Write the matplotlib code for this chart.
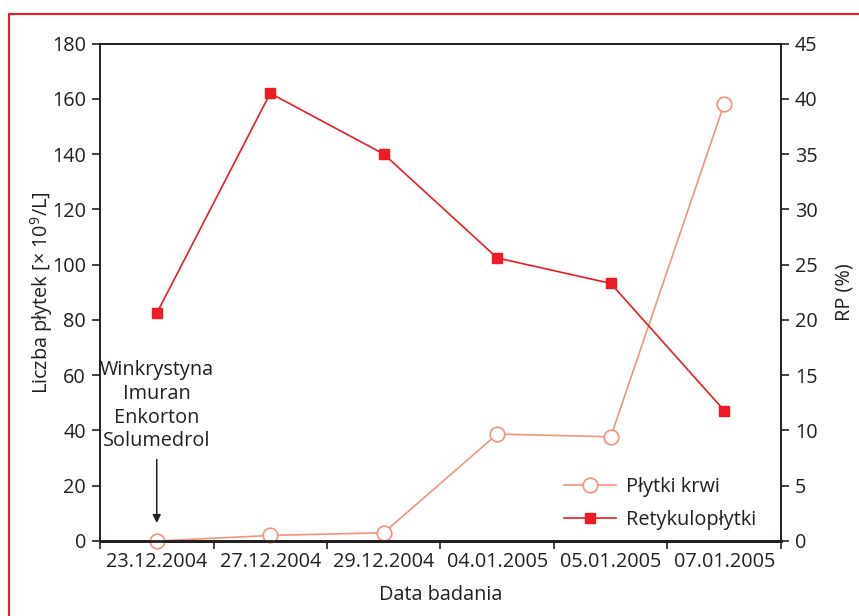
import numpy as np
import matplotlib.pyplot as plt
from matplotlib.lines import Line2D

plt.rcParams['font.family'] = ['Open Sans', 'DejaVu Sans']
plt.rcParams['mathtext.fontset'] = 'custom'
plt.rcParams['mathtext.rm'] = 'Open Sans'
FS = 14.3

dates = ['23.12.2004', '27.12.2004', '29.12.2004', '04.01.2005', '05.01.2005', '07.01.2005']
plytki = [0, 2, 3, 38.7, 37.7, 158.2]        # x 10^9/L, left axis
retykulo = [20.6, 40.5, 35.0, 25.6, 23.3, 11.8]  # RP %, right axis
drugs = ['Winkrystyna', 'Imuran', 'Enkorton', 'Solumedrol']

RED = '#ED1C24'
SALMON = '#F4937C'
DARK = '#231F20'

fig = plt.figure(figsize=(8.59, 6.16), dpi=100)
ax = fig.add_axes([100 / 859, 1 - 541 / 616, 681 / 859, 497.5 / 616])
ax2 = ax.twinx()

x = np.arange(len(dates))
ax.plot(x, plytki, color=SALMON, lw=1.2, marker='o', ms=10.5, mfc='white',
        mec=SALMON, mew=1.2, label='Płytki krwi', zorder=3, clip_on=False)
ax2.plot(x, retykulo, color=RED, lw=1.2, marker='s', ms=7, mfc=RED,
         mec=RED, label='Retykulopłytki', zorder=3, clip_on=False)

ax.set_xlim(-0.5, len(dates) - 0.5)
ax.set_ylim(0, 180)
ax2.set_ylim(0, 45)
ax.set_yticks(np.arange(0, 181, 20))
ax2.set_yticks(np.arange(0, 46, 5))
ax.set_xticks(np.arange(-0.5, len(dates) - 0.4, 1))
ax.set_xticklabels([])
ax.set_xticks(x, minor=True)
ax.set_xticklabels(dates, minor=True)
ax.tick_params(axis='x', which='minor', length=0, pad=8, labelsize=FS, colors=DARK)
ax.tick_params(axis='x', which='major', length=6, width=1.2, color=DARK)
ax.tick_params(axis='y', length=6, width=1.2, labelsize=FS, colors=DARK, pad=4)
ax2.tick_params(axis='y', length=6, width=1.2, labelsize=FS, colors=DARK, pad=4)

for a in (ax, ax2):
    for s in a.spines.values():
        s.set_color(DARK)
        s.set_linewidth(1.2)
ax.spines['bottom'].set_linewidth(2)
ax2.spines['bottom'].set_linewidth(2)

ax.set_ylabel('Liczba płytek [× 10$^{9}$/L]', fontsize=FS, color=DARK, labelpad=-2)
ax2.set_ylabel('RP (%)', fontsize=FS, color=DARK, labelpad=12)
ax.set_xlabel('Data badania', fontsize=FS, color=DARK, labelpad=9)

# annotation: treatment start
ax.annotate('', xy=(0, 5.5), xytext=(0, 30.5),
            arrowprops=dict(arrowstyle='-|>', color=DARK, lw=1.1, mutation_scale=12))
ax.text(0, 32.5, '\n'.join(drugs), ha='center', va='bottom', fontsize=FS,
        color=DARK, linespacing=1.24)

h1, l1 = ax.get_legend_handles_labels()
h2, l2 = ax2.get_legend_handles_labels()
ax2.legend(h1 + h2, l1 + l2, loc='lower right', bbox_to_anchor=(0.99, -0.013),
           frameon=False, fontsize=FS, handlelength=2.6, labelspacing=0.65,
           handletextpad=0.5, labelcolor=DARK)

# red frame around the figure (open to the right and bottom)
fig.add_artist(Line2D([9 / 859, 9 / 859], [0, 1 - 14 / 616], color=RED, lw=1.5,
                      transform=fig.transFigure))
fig.add_artist(Line2D([9 / 859, 1], [1 - 14 / 616, 1 - 14 / 616], color=RED, lw=1.5,
                      transform=fig.transFigure))

fig.savefig('out.png', dpi=100)
